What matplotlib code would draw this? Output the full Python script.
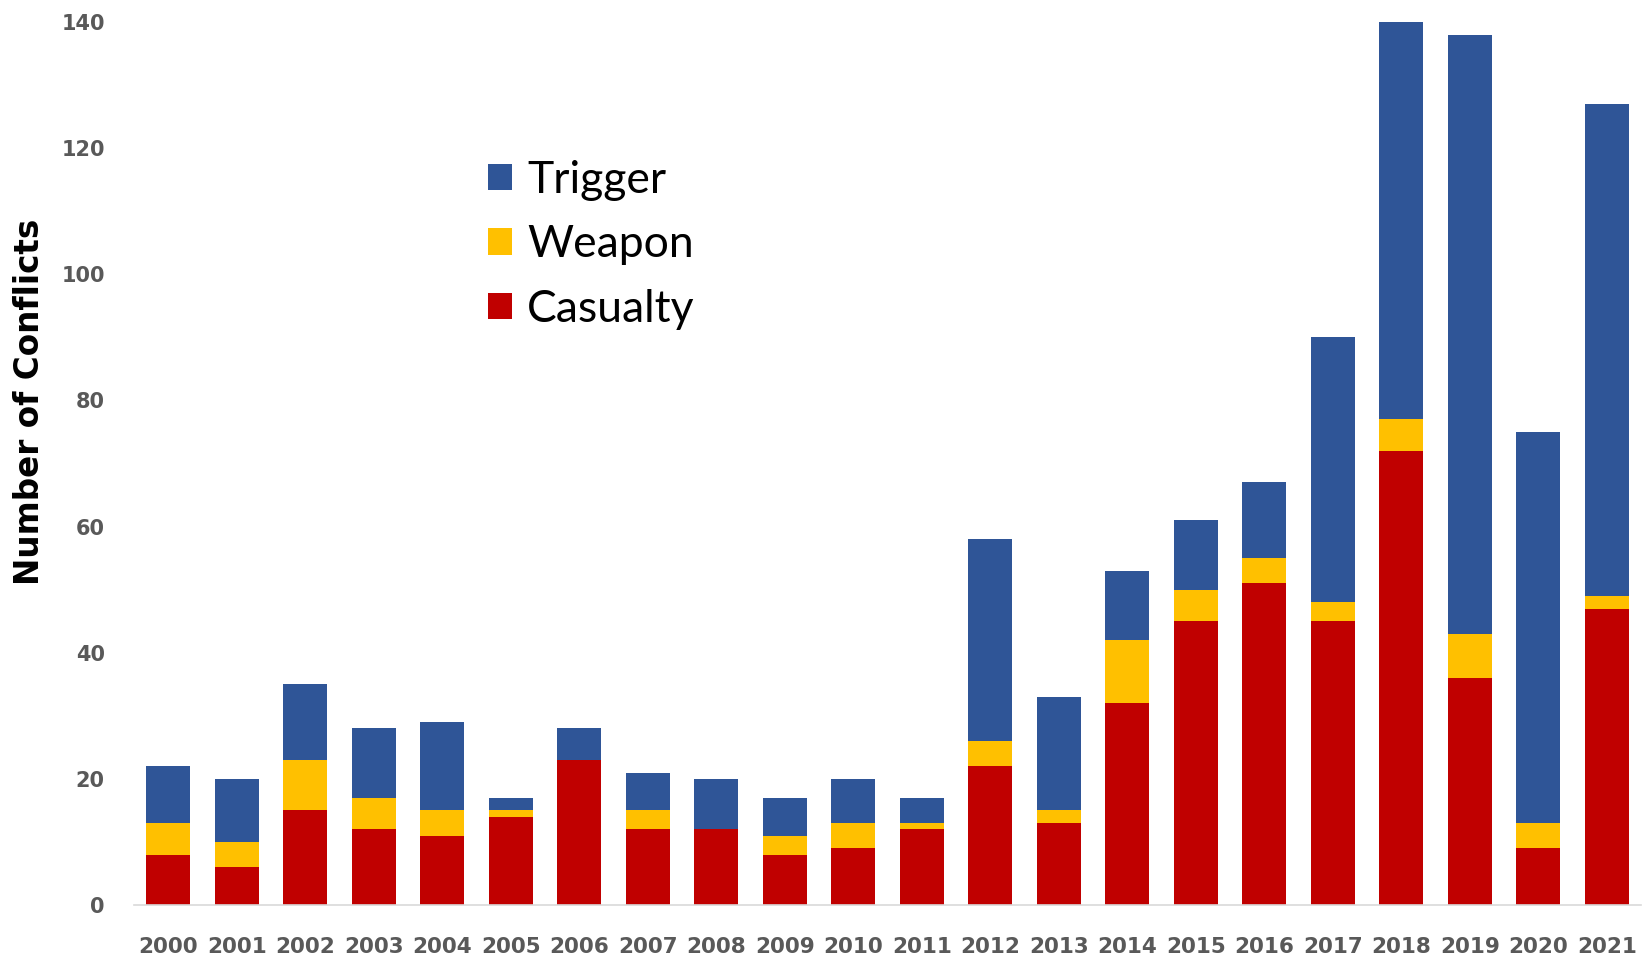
import matplotlib
matplotlib.use("Agg")
import matplotlib.pyplot as plt
import numpy as np

# --- datos ---
years = [str(y) for y in range(2000, 2022)]
casualty = [8, 6, 15, 12, 11, 14, 23, 12, 12, 8, 9, 12, 22, 13, 32, 45, 51, 45, 72, 36, 9, 47]
weapon = [5, 4, 8, 5, 4, 1, 0, 3, 0, 3, 4, 1, 4, 2, 10, 5, 4, 3, 5, 7, 4, 2]
trigger = [9, 10, 12, 11, 14, 2, 5, 6, 8, 6, 7, 4, 32, 18, 11, 11, 12, 42, 63, 95, 62, 78]

C_RED = "#C00000"
C_YEL = "#FFC000"
C_BLUE = "#2F5597"
TICK_C = "#595959"

fig = plt.figure(figsize=(16.48, 9.56), dpi=100)
ax = fig.add_axes([0.0813, 0.0533, 0.9145, 0.9237])

x = np.arange(len(years))
w = 0.64
cas = np.array(casualty)
wea = np.array(weapon)
tri = np.array(trigger)

b1 = ax.bar(x, cas, w, color=C_RED, label="Casualty")
b2 = ax.bar(x, wea, w, bottom=cas, color=C_YEL, label="Weapon")
b3 = ax.bar(x, tri, w, bottom=cas + wea, color=C_BLUE, label="Trigger")

ax.set_xlim(-0.5, len(years) - 0.5)
ax.set_ylim(0, 140)
ax.set_yticks(range(0, 141, 20))
ax.set_xticks(x)
ax.set_xticklabels(years)

for s in ["top", "right", "left"]:
    ax.spines[s].set_visible(False)
ax.spines["bottom"].set_color("#D9D9D9")
ax.spines["bottom"].set_linewidth(1.2)
ax.tick_params(axis="both", length=0, colors=TICK_C)
ax.tick_params(axis="x", pad=23)
ax.tick_params(axis="y", pad=21)
for lab in ax.get_xticklabels():
    lab.set_fontweight("bold")
    lab.set_fontsize(15.5)
    lab.set_color(TICK_C)
for lab in ax.get_yticklabels():
    lab.set_fontweight("bold")
    lab.set_fontsize(15)
    lab.set_color(TICK_C)

fig.text(0.018, 0.58, "Number of Conflicts", rotation=90, ha="center", va="center",
         fontsize=23.5, fontweight="bold", color="black")

leg = ax.legend(handles=[b3, b2, b1], loc="upper left",
                bbox_to_anchor=(0.296, 0.833), bbox_transform=fig.transFigure,
                frameon=False, prop={"family": "Lato", "size": 32},
                handlelength=0.55, handleheight=0.55, handletextpad=0.33,
                labelspacing=0.53, borderpad=0, borderaxespad=0)

fig.savefig("out.png", dpi=100)
